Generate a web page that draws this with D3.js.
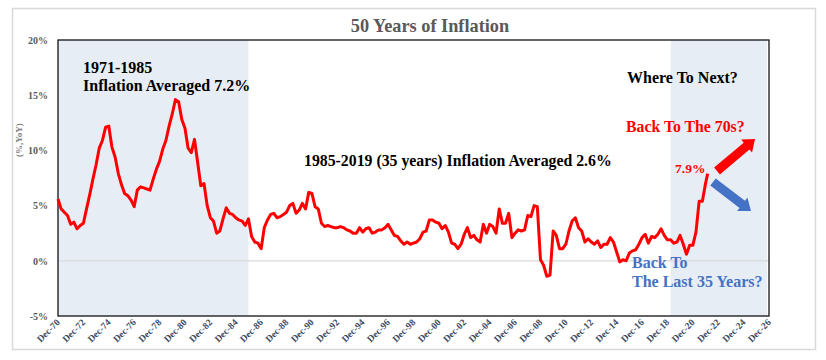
<!DOCTYPE html>
<html><head><meta charset="utf-8">
<script src="https://cdn.jsdelivr.net/npm/d3@7/dist/d3.min.js"></script>
<style>body{margin:0;background:#fff}svg{display:block}</style>
</head><body><svg id="c" width="826" height="360"></svg>
<script>
// Quarterly US CPI YoY (%), starting Dec-1970; last point Feb-2022
const firstPeriod = "1970-12";
const lastPeriod = "2022-02";
const cpiYoY = [
 5.6,
 4.7,4.4,4.1,3.3,   // 1971
 3.5,2.9,3.2,3.4,   // 1972
 4.7,6.0,7.4,8.7,   // 1973
 10.2,10.9,12.1,12.2,// 1974
 10.3,9.4,7.9,6.9,  // 1975
 6.1,5.9,5.5,4.9,   // 1976
 6.4,6.7,6.6,6.5,   // 1977
 6.4,7.4,8.3,9.0,   // 1978
 10.1,10.9,12.2,13.3,// 1979
 14.6,14.4,12.8,12.0,// 1980
 10.2,9.8,11.0,8.9, // 1981
 6.8,7.0,5.0,3.9,   // 1982
 3.6,2.5,2.7,3.8,   // 1983
 4.8,4.3,4.2,3.9,   // 1984
 3.7,3.6,3.2,3.8,   // 1985
 2.2,1.7,1.6,1.1,   // 1986
 3.0,3.7,4.2,4.3,   // 1987
 3.9,4.0,4.2,4.4,   // 1988
 5.0,5.2,4.3,4.6,   // 1989
 5.2,4.7,6.2,6.1,   // 1990
 4.9,4.7,3.4,3.1,   // 1991
 3.2,3.1,3.0,3.0,   // 1992
 3.1,3.0,2.8,2.7,   // 1993
 2.5,2.5,3.0,2.6,   // 1994
 2.9,3.0,2.5,2.6,   // 1995
 2.8,2.8,3.0,3.3,   // 1996
 2.8,2.3,2.2,1.8,   // 1997
 1.5,1.7,1.5,1.6,   // 1998
 1.7,2.0,2.6,2.7,   // 1999
 3.7,3.7,3.5,3.4,   // 2000
 2.9,3.2,2.6,1.6,   // 2001
 1.5,1.1,1.5,2.4,   // 2002
 3.0,2.1,2.3,1.9,   // 2003
 1.7,3.3,2.5,3.3,   // 2004
 3.1,2.5,4.7,3.4,   // 2005
 3.4,4.3,2.1,2.5,   // 2006
 2.8,2.7,2.8,4.1,   // 2007
 4.0,5.0,4.9,0.1,   // 2008
 -0.4,-1.4,-1.3,2.7,// 2009
 2.3,1.1,1.1,1.5,   // 2010
 2.7,3.6,3.9,3.0,   // 2011
 2.7,1.7,2.0,1.7,   // 2012
 1.5,1.8,1.2,1.5,   // 2013
 1.5,2.1,1.7,0.8,   // 2014
 -0.1,0.1,0.0,0.7,  // 2015
 0.9,1.0,1.5,2.1,   // 2016
 2.4,1.6,2.2,2.1,   // 2017
 2.4,2.9,2.3,1.9,   // 2018
 1.9,1.6,1.7,2.3,   // 2019
 1.5,0.6,1.4,1.4,   // 2020
 2.6,5.4,5.4,7.0,   // 2021
 7.9                // Feb-2022
];
const xTickLabels = ["Dec-70","Dec-72","Dec-74","Dec-76","Dec-78","Dec-80","Dec-82","Dec-84","Dec-86","Dec-88","Dec-90","Dec-92","Dec-94","Dec-96","Dec-98","Dec-00","Dec-02","Dec-04","Dec-06","Dec-08","Dec-10","Dec-12","Dec-14","Dec-16","Dec-18","Dec-20","Dec-22","Dec-24","Dec-26"];
const yTicks = [-5,0,5,10,15,20];
const shadeRanges = [["1970-12","1985-12"],["2019-03","2026-10"]];

const parse = d3.timeParse("%Y-%m");
const parseTick = d3.timeParse("%b-%y");
const tickDate = s => { const d = parseTick(s); if (d.getFullYear() > 2050) d.setFullYear(d.getFullYear()-100); return d; };

const start = parse(firstPeriod);
const data = cpiYoY.map((v,i) => ({
  date: i === cpiYoY.length-1 ? parse(lastPeriod) : d3.timeMonth.offset(start, 3*i),
  v
}));

const svg = d3.select("#c");
const L = 58, R = 769, T = 40, B = 316;
const x = d3.scaleTime().domain([tickDate("Dec-70"), tickDate("Dec-26")]).range([L, R]);
const y = d3.scaleLinear().domain([-5, 20]).range([B, T]);

svg.append("rect").attr("x",12.5).attr("y",8.5).attr("width",803).attr("height",341)
  .attr("fill","#fff").attr("stroke","#D9D9D9").attr("stroke-width",1.5);

svg.selectAll("rect.shade").data(shadeRanges).enter().append("rect")
  .attr("class","shade")
  .attr("x", d => x(parse(d[0])))
  .attr("width", d => x(parse(d[1])) - x(parse(d[0])))
  .attr("y", T).attr("height", B - T)
  .attr("fill", "#E7EDF5");

svg.append("line").attr("x1",L).attr("x2",R).attr("y1",y(0)).attr("y2",y(0))
  .attr("stroke","#D9D9D9").attr("stroke-width",1.2);

svg.append("rect").attr("x",L).attr("y",T).attr("width",R-L).attr("height",B-T)
  .attr("fill","none").attr("stroke","#111").attr("stroke-width",1.3);

const yAxis = d3.axisLeft(y).tickValues(yTicks).tickSize(0).tickPadding(10).tickFormat(d => d + "%");
const gy = svg.append("g").attr("transform",`translate(${L},0)`).call(yAxis);
gy.select(".domain").remove();
gy.selectAll("text").attr("font-family","Liberation Serif").attr("font-weight","bold")
  .attr("font-size","10px").attr("fill","#595959");

svg.append("text").attr("transform","translate(22,140) rotate(-90)")
  .attr("text-anchor","middle").attr("font-family","Liberation Serif").attr("font-weight","bold")
  .attr("font-size","9px").attr("fill","#7F7F7F").text("(%,YoY)");

const xAxis = d3.axisBottom(x).tickValues(xTickLabels.map(tickDate)).tickSize(0).tickFormat((d,i) => xTickLabels[i]);
const gx = svg.append("g").attr("transform",`translate(0,${B})`).call(xAxis);
gx.select(".domain").remove();
gx.selectAll("text").attr("font-family","Liberation Serif").attr("font-weight","bold")
  .attr("font-size","9.5px").attr("fill","#3B4A63")
  .attr("text-anchor","end").attr("dy",null).attr("y",0)
  .attr("transform","translate(2,7) rotate(-45)");

const line = d3.line().x(d => x(d.date)).y(d => y(d.v)).curve(d3.curveLinear);
svg.append("path").datum(data).attr("d", line).attr("fill","none")
  .attr("stroke","#FF0000").attr("stroke-width",3).attr("stroke-linejoin","round");

svg.append("text").attr("x",430).attr("y",32).attr("text-anchor","middle")
  .attr("font-family","Liberation Serif").attr("font-weight","bold").attr("font-size","18.3px")
  .attr("fill","#595959").text("50 Years of Inflation");

function t(xp, yp, s, size, color){
  svg.append("text").attr("x",xp).attr("y",yp).attr("font-family","Liberation Serif")
    .attr("font-weight","bold").attr("font-size",size+"px").attr("fill",color).text(s);
}
t(83, 73, "1971-1985", 16, "#000");
t(83, 91, "Inflation Averaged 7.2%", 16, "#000");
t(304, 166, "1985-2019 (35 years) Inflation Averaged 2.6%", 15.8, "#000");
t(627, 83, "Where To Next?", 16, "#000");
t(626, 132, "Back To The 70s?", 15.8, "#FF0000");
t(675, 173, "7.9%", 13.5, "#FF0000");
t(632, 268, "Back To", 16, "#4472C4");
t(632, 287, "The Last 35 Years?", 16, "#4472C4");

function arrow(x1,y1,x2,y2,color){
  const ang = Math.atan2(y2-y1, x2-x1);
  const len = Math.hypot(x2-x1, y2-y1);
  const sw = 4.5, hw = 8.5, hl = 11;
  const g = svg.append("g").attr("transform",`translate(${x1},${y1}) rotate(${ang*180/Math.PI})`);
  g.append("path").attr("d",`M0,${-sw} L${len-hl},${-sw} L${len-hl},${-hw} L${len},0 L${len-hl},${hw} L${len-hl},${sw} L0,${sw} Z`)
    .attr("fill",color);
}
arrow(717,171,755,139,"#FF0000");
arrow(713,182,751,211,"#4472C4");
</script></body></html>
